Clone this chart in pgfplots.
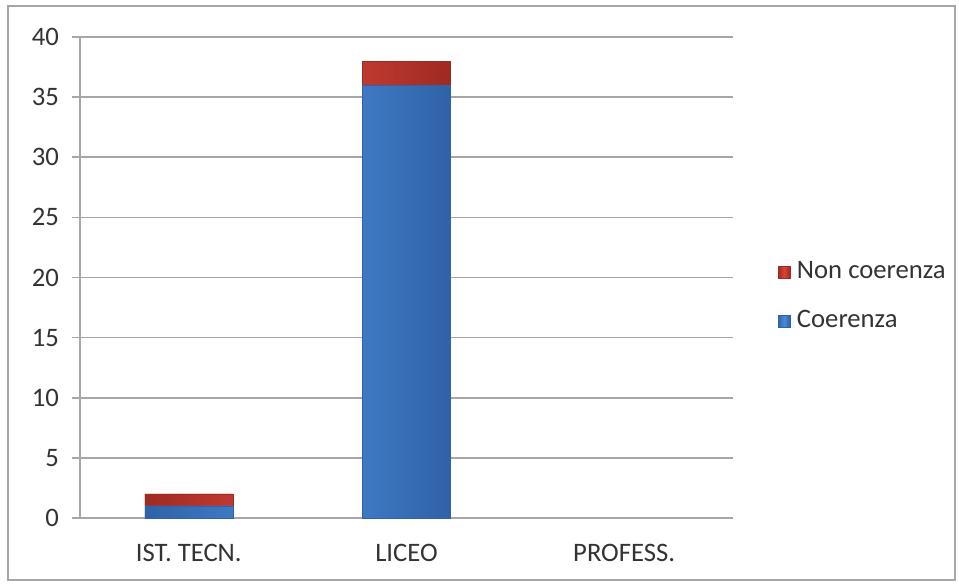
\documentclass[border=0pt]{standalone}
\usepackage{pgfplots}
\pgfplotsset{compat=1.18}
\usepackage{fontspec}
\setmainfont{Carlito}
\definecolor{gridgray}{HTML}{A6A6A6}
\definecolor{coblue}{HTML}{4A8AD6}
\definecolor{cobluedark}{HTML}{2F62A8}
\definecolor{cored}{HTML}{D9443A}
\definecolor{coreddark}{HTML}{9E2A22}
\begin{document}
\begin{tikzpicture}[x=0.75pt,y=0.75pt]
\fontsize{20}{24}\selectfont
\useasboundingbox (0,0) rectangle (959,583);
\draw[gridgray, line width=1.5pt] (8,3) rectangle (955,577);
\begin{axis}[
  at={(60pt,48.75pt)}, anchor=south west,
  scale only axis,
  width=489.75pt, height=360.75pt,
  ybar stacked,
  bar width=66pt,
  ymin=0, ymax=40,
  ytick={0,5,...,40},
  xmin=-0.5, xmax=2.5,
  xtick={0,1,2},
  xticklabels={IST. TECN., LICEO, PROFESS.},
  major x tick style={draw=none},
  extra x ticks={-0.5,0.5,1.5,2.5},
  extra x tick labels={},
  extra x tick style={grid=none, major tick length=6pt, tick align=outside, tick style={draw=gridgray, line width=1.2pt}},
  ymajorgrids,
  grid style={gridgray, line width=1.2pt},
  axis x line*=bottom, axis y line*=left,
  axis line style={gridgray, line width=1.2pt, -},
  y tick style={gridgray, line width=1.2pt},
  major tick length=6pt,
  tick align=outside,
  /pgf/number format/assume math mode=true,
  tick label style={font=\fontsize{20}{24}\selectfont, text=black!80},
  yticklabel style={xshift=-3pt},
  xticklabel style={yshift=-7pt},
  legend style={at={(1.062,0.46)}, anchor=west, draw=none, fill=none,
    font=\fontsize{20}{24}\selectfont, text=black!80, row sep=17pt},
  legend cell align=left,
  reverse legend,
  legend image code/.code={\fill[#1] (0pt,-4.5pt) rectangle (9pt,4.5pt); \path (12pt,0pt);},
]
\addplot[draw=cobluedark, left color=cobluedark, right color=cobluedark, middle color=coblue, fill=coblue]
  coordinates {(0,1) (1,36) (2,0)};
\addplot[draw=coreddark, left color=coreddark, right color=coreddark, middle color=cored, fill=cored]
  coordinates {(0,1) (1,2) (2,0)};
\legend{Coerenza, Non coerenza}
\end{axis}
\end{tikzpicture}
\end{document}
